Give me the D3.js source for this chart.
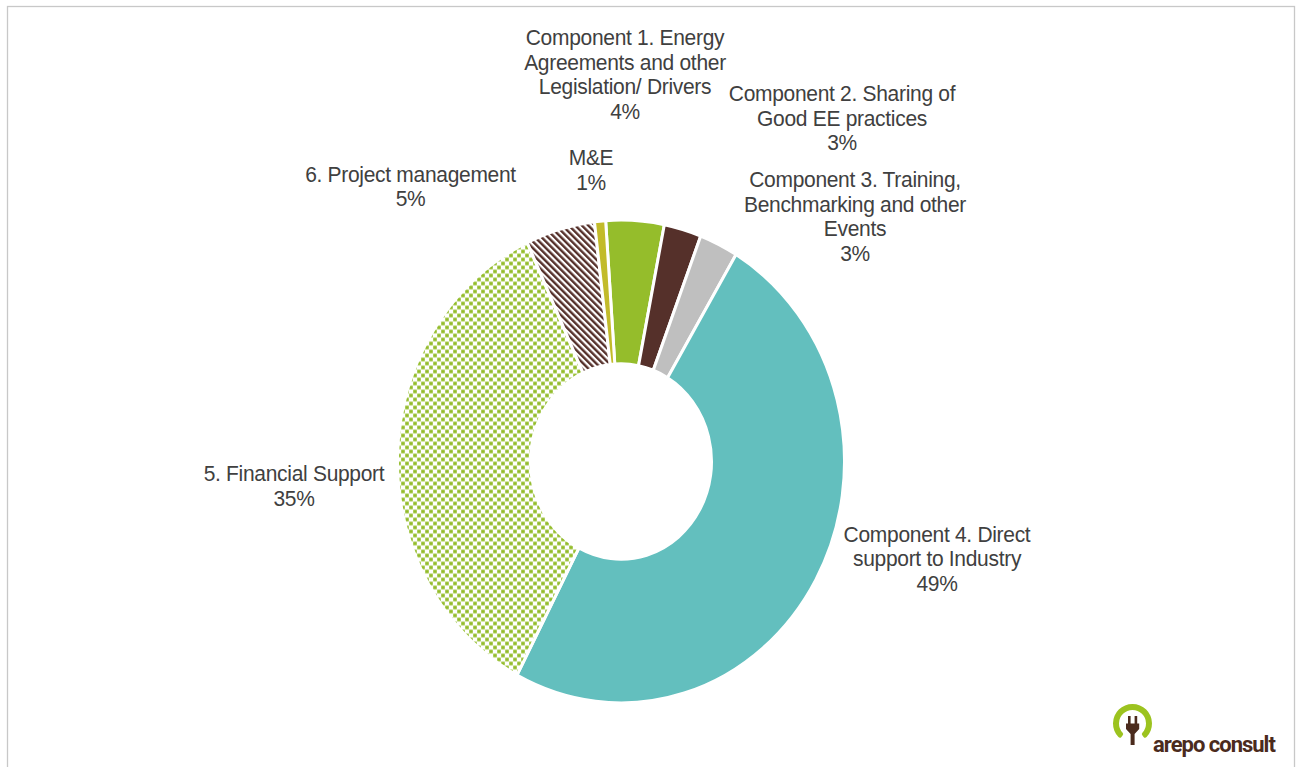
<!DOCTYPE html>
<html>
<head>
<meta charset="utf-8">
<script src="https://cdn.jsdelivr.net/npm/d3@7"></script>
<style>
  html, body { margin: 0; padding: 0; background: #fff; }
  svg { display: block; }
  .label text { font-family: "Liberation Sans", Arial, sans-serif; font-size: 21px; fill: #404040; letter-spacing: -0.3px; }
</style>
</head>
<body>
<svg id="chart" width="1297" height="767"></svg>
<script>
// Budget breakdown by component (share of total, %)
const categories = [
  "Component 1. Energy Agreements and other Legislation/ Drivers",
  "Component 2. Sharing of Good EE practices",
  "Component 3. Training, Benchmarking and other Events",
  "Component 4. Direct support to Industry",
  "5. Financial Support",
  "6. Project management",
  "M&E"
];
const labelLines = [
  ["Component 1. Energy", "Agreements and other", "Legislation/ Drivers"],
  ["Component 2. Sharing of", "Good EE practices"],
  ["Component 3. Training,", "Benchmarking and other", "Events"],
  ["Component 4. Direct", "support to Industry"],
  ["5. Financial Support"],
  ["6. Project management"],
  ["M&E"]
];
const shares = [4.2, 2.7, 2.8, 49.1, 35.4, 5.0, 0.8];

// Slice fills (solid colours or pattern references)
const fills = ["#95bd2b", "#55302a", "#bfbfbf", "#63bfbe", "url(#dots)", "url(#stripes)", "#c2bb2a"];

// Label block anchors: centre x and baseline of the first line
const labelAnchors = [[625, 45], [842, 101], [855, 187], [937, 541.5], [294, 481], [410.5, 181.5], [591, 165]];

const W = 1297, H = 767;
const cx = 621, cy = 461.5;
const outerR = 223.5, innerR = 90.5, yStretch = 1.08;
const startDeg = -3.94;

const svg = d3.select("#chart");

// Frame
svg.append("rect")
  .attr("x", 7.5).attr("y", 6.5)
  .attr("width", 1287).attr("height", 800)
  .attr("fill", "none").attr("stroke", "#c8c8c8").attr("stroke-width", 1.3);

// Fill patterns (counter-scaled so they stay square on screen)
const defs = svg.append("defs");
const dots = defs.append("pattern")
  .attr("id", "dots").attr("patternUnits", "userSpaceOnUse")
  .attr("width", 8).attr("height", 8)
  .attr("patternTransform", `scale(1,${1 / yStretch})`);
dots.append("rect").attr("width", 8).attr("height", 8).attr("fill", "#fff");
dots.append("rect").attr("x", 0.2).attr("y", 0.2).attr("width", 3.6).attr("height", 3.6).attr("fill", "#93bc2a");
dots.append("rect").attr("x", 4.2).attr("y", 4.2).attr("width", 3.6).attr("height", 3.6).attr("fill", "#93bc2a");

const stripes = defs.append("pattern")
  .attr("id", "stripes").attr("patternUnits", "userSpaceOnUse")
  .attr("width", 4.6).attr("height", 4.6)
  .attr("patternTransform", `scale(1,${1 / yStretch}) rotate(-45)`);
stripes.append("rect").attr("width", 4.6).attr("height", 4.6).attr("fill", "#fff");
stripes.append("rect").attr("width", 2.4).attr("height", 4.6).attr("fill", "#55302a");

// Doughnut
const pie = d3.pie()
  .sort(null)
  .value(d => d)
  .startAngle(startDeg * Math.PI / 180)
  .endAngle(startDeg * Math.PI / 180 + 2 * Math.PI);

const arc = d3.arc().innerRadius(innerR).outerRadius(outerR);

const ring = svg.append("g")
  .attr("transform", `translate(${cx},${cy}) scale(1,${yStretch})`);

ring.selectAll("path")
  .data(pie(shares))
  .join("path")
  .attr("d", arc)
  .attr("fill", (d, i) => fills[i])
  .attr("stroke", "#fff")
  .attr("stroke-width", 3)
  .attr("vector-effect", "non-scaling-stroke");

// Labels: category name lines followed by the percentage
const total = d3.sum(shares);
const pct = d3.format(".0%");
const lineStep = 24.7 / yStretch;

const labels = svg.append("g").attr("class", "label");
labels.selectAll("text")
  .data(categories)
  .join("text")
  .attr("text-anchor", "middle")
  .attr("transform", (d, i) => `translate(${labelAnchors[i][0]},${labelAnchors[i][1]}) scale(1,${yStretch})`)
  .each(function (d, i) {
    const t = d3.select(this);
    const lines = labelLines[i].concat([pct(shares[i] / total)]);
    lines.forEach((s, j) => {
      t.append("tspan").attr("x", 0).attr("y", j * lineStep).text(s);
    });
  });

// Company mark
const logo = svg.append("g");
const ringArc = d3.arc().innerRadius(13.5).outerRadius(19.5)
  .startAngle(-2.45).endAngle(2.45).cornerRadius(2);
logo.append("path")
  .attr("transform", "translate(1132.5,723.5)")
  .attr("d", ringArc())
  .attr("fill", "#9cc31f");
const brown = "#4b2b1d";
logo.append("rect").attr("x", 1128).attr("y", 716).attr("width", 2.6).attr("height", 9).attr("fill", brown);
logo.append("rect").attr("x", 1134.6).attr("y", 716).attr("width", 2.6).attr("height", 9).attr("fill", brown);
logo.append("path")
  .attr("d", "M1126,723.5 L1139.2,723.5 L1139.2,729 L1134.6,734 L1134.6,745 L1130.6,745 L1130.6,734 L1126,729 Z")
  .attr("fill", brown);
logo.append("text")
  .attr("x", 1153).attr("y", 752)
  .attr("font-family", "Roboto, 'Open Sans', sans-serif")
  .attr("font-weight", 700)
  .attr("font-size", 22)
  .attr("letter-spacing", -1)
  .attr("fill", brown)
  .text("arepo consult");
</script>
</body>
</html>
